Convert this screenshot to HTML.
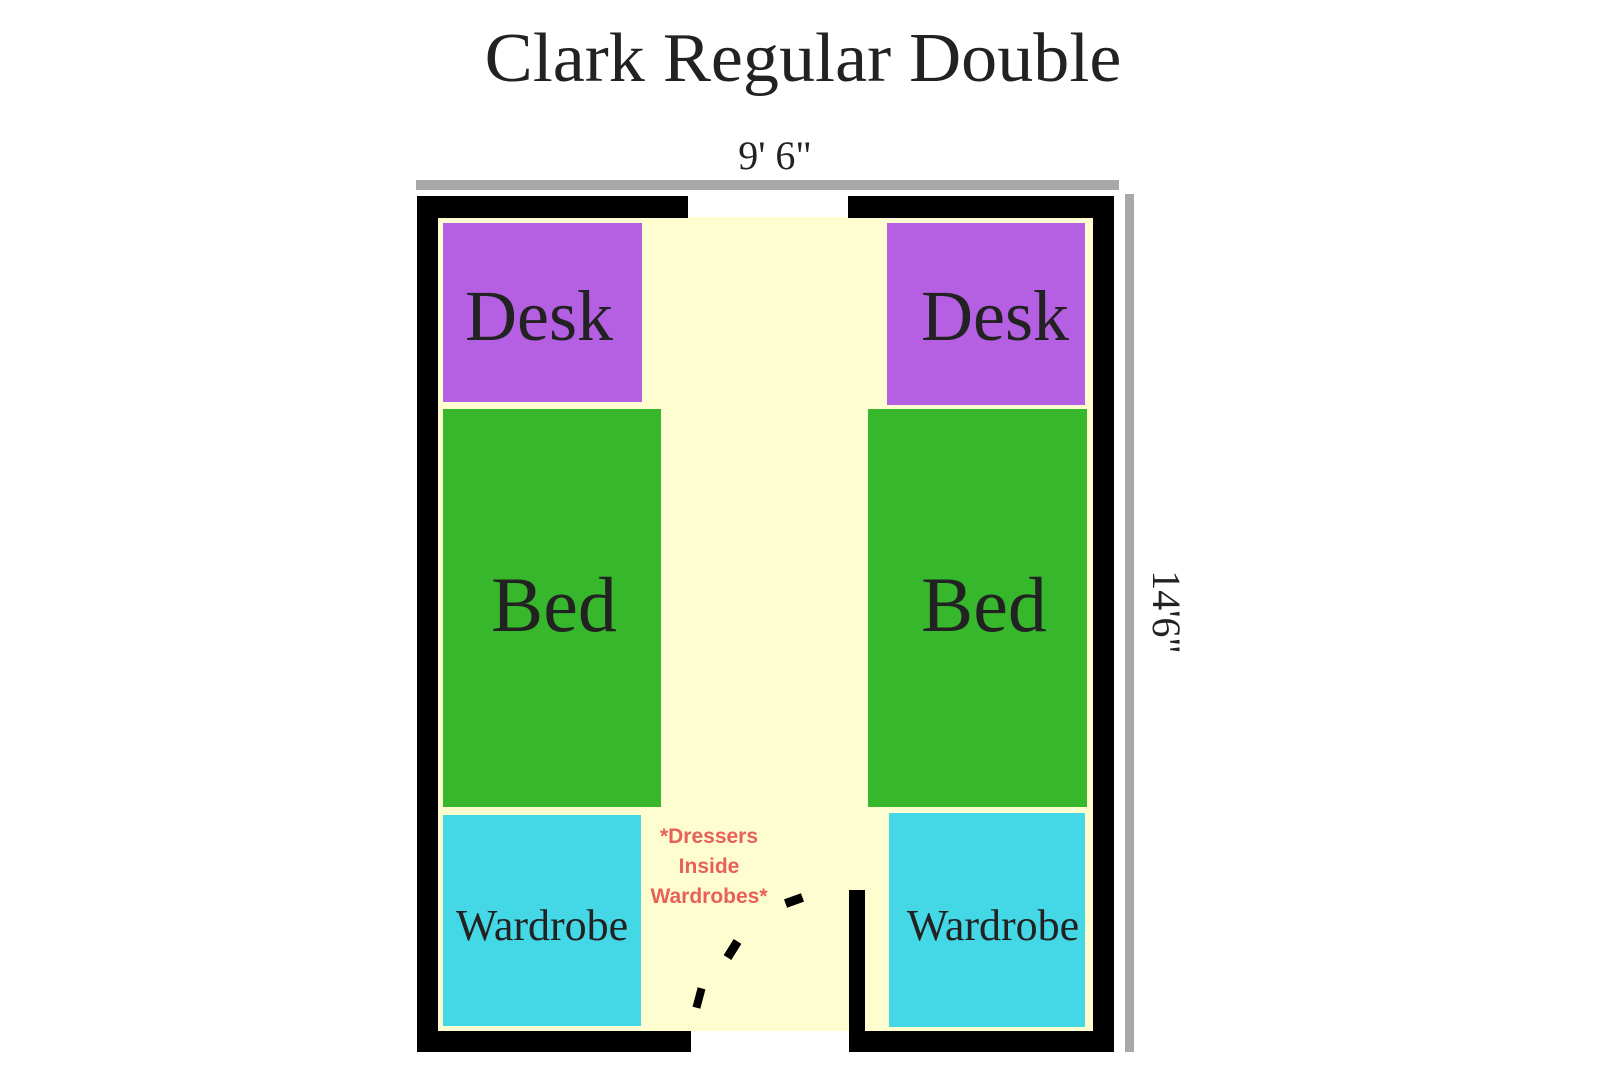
<!DOCTYPE html>
<html><head><meta charset="utf-8"><style>
body{margin:0;width:1610px;height:1075px;background:#fff;position:relative;overflow:hidden;font-family:"Liberation Serif",serif;}
div{position:absolute;}
.t{color:#222;text-align:center;white-space:nowrap;line-height:1;}
</style></head><body>
<div class="t" style="left:-10px;width:1626px;top:24px;font-size:70px;transform:scaleX(1.03);">Clark Regular Double</div>
<div class="t" style="left:675px;width:200px;top:136px;font-size:40px;">9' 6"</div>
<div style="left:416px;top:180px;width:703px;height:10px;background:#a8a8a8"></div>
<div style="left:1125px;top:194px;width:9px;height:858px;background:#a8a8a8"></div>
<div class="t" style="left:1066px;top:592px;width:200px;font-size:40px;transform:rotate(90deg);">14'6"</div>
<div style="left:438px;top:217px;width:655px;height:814px;background:#fdfdd0"></div>
<div style="left:417px;top:196px;width:271px;height:22px;background:#000"></div>
<div style="left:848px;top:196px;width:266px;height:22px;background:#000"></div>
<div style="left:417px;top:196px;width:21px;height:856px;background:#000"></div>
<div style="left:1093px;top:196px;width:21px;height:856px;background:#000"></div>
<div style="left:417px;top:1031px;width:274px;height:21px;background:#000"></div>
<div style="left:849px;top:1031px;width:265px;height:21px;background:#000"></div>
<div style="left:849px;top:890px;width:16px;height:162px;background:#000"></div>
<div style="left:443px;top:223px;width:199px;height:179px;background:#b55fe3"></div>
<div style="left:887px;top:223px;width:198px;height:182px;background:#b55fe3"></div>
<div style="left:443px;top:409px;width:218px;height:398px;background:#37b72c"></div>
<div style="left:868px;top:409px;width:219px;height:398px;background:#37b72c"></div>
<div style="left:443px;top:815px;width:198px;height:211px;background:#44d8e6"></div>
<div style="left:889px;top:813px;width:196px;height:214px;background:#44d8e6"></div>
<div class="t" style="left:439px;width:200px;top:280px;font-size:72px;">Desk</div>
<div class="t" style="left:895px;width:200px;top:280px;font-size:72px;">Desk</div>
<div class="t" style="left:454px;width:200px;top:566px;font-size:78px;">Bed</div>
<div class="t" style="left:884px;width:200px;top:566px;font-size:78px;">Bed</div>
<div class="t" style="left:442px;width:200px;top:904px;font-size:44px;">Wardrobe</div>
<div class="t" style="left:893px;width:200px;top:904px;font-size:44px;">Wardrobe</div>
<div class="t" style="left:609px;width:200px;top:822px;font-size:21px;font-weight:bold;color:#e8605a;font-family:'Liberation Sans',sans-serif;line-height:30px;">*Dressers<br>Inside<br>Wardrobes*</div>
<div style="left:785px;top:896px;width:18px;height:9px;background:#000;transform:rotate(-20deg)"></div>
<div style="left:728px;top:940px;width:9px;height:19px;background:#000;transform:rotate(32deg)"></div>
<div style="left:695px;top:988px;width:8px;height:20px;background:#000;transform:rotate(15deg)"></div>
</body></html>
